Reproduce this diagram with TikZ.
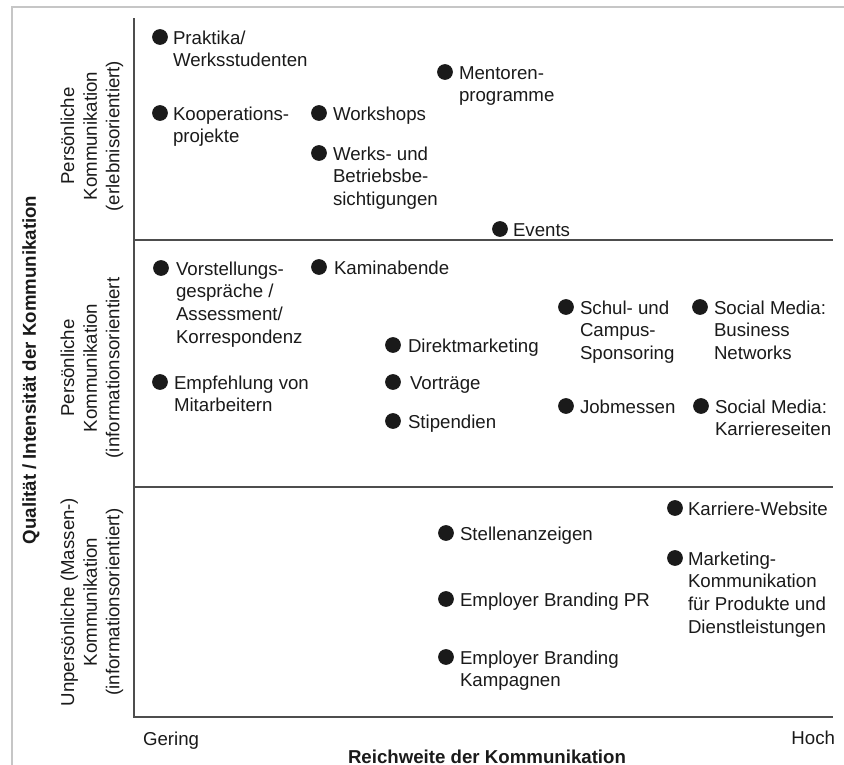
\documentclass[tikz,border=0pt]{standalone}
\usepackage{fontspec}
\setmainfont{Liberation Sans}
\definecolor{ink}{HTML}{1A1A1A}
\definecolor{axisgrey}{HTML}{4D4D4D}
\definecolor{framegrey}{HTML}{C6C6C6}
% multi-line label whose baseline is the first line
\newcommand\ml[1]{\begin{tabular}[t]{@{}l@{}}#1\end{tabular}}
% bullet item: name, bullet x, bullet y, text x, text
\newcommand\bitem[5]{%
  \node[dot] (#1) at (#2,#3) {};
  \node[lbl] (#1-t) at (#4,#3+7) {\ml{#5}};}
\begin{document}
\begin{tikzpicture}[x=0.75pt,y=-0.75pt,
  every node/.style={inner sep=0pt, outer sep=0pt, text=ink,
    font=\fontsize{14}{17}\selectfont},
  dot/.style={circle, fill=ink, minimum size=11.8pt},
  lbl/.style={anchor=base west},
  rowlbl/.style={rotate=90, align=center},
  titlelbl/.style={font=\fontsize{14}{17}\selectfont\bfseries},
  axis/.style={draw=axisgrey, line width=1.1pt},
  frame/.style={draw=framegrey, line width=1.5pt}]
\useasboundingbox (0,0) rectangle (844,765);

% outer frame (top and left edges)
\draw[frame] (12,765) -- (12,7) -- (844,7);

% axes and band dividers
\coordinate (top) at (134,18);
\coordinate (orig) at (134,717);
\coordinate (xend) at (833,717);
\coordinate (d1l) at (134,240);
\coordinate (d1r) at (833,240);
\coordinate (d2l) at (134,487);
\coordinate (d2r) at (833,487);
\draw[axis] (top) -- (orig) -- (xend);
\draw[axis] (d1l) -- (d1r);
\draw[axis] (d2l) -- (d2r);

% axis titles
\node[titlelbl, rotate=90] (ytitle) at (31,370) {Qualität / Intensität der Kommunikation};
\node[titlelbl, anchor=base] (xtitle) at (487,763) {Reichweite der Kommunikation};
\node[anchor=base west] (lo) at (143,745) {Gering};
\node[anchor=base east] (hi) at (835,744) {Hoch};

% band labels
\node[rowlbl] (band1) at (92,136) {Persönliche\\Kommunikation\\(erlebnisorientiert)};
\node[rowlbl] (band2) at (92,368) {Persönliche\\Kommunikation\\(informationsorientiert};
\node[rowlbl] (band3) at (92,602) {Unpersönliche (Massen-)\\Kommunikation\\(informationsorientiert)};

% experience-oriented personal communication
\bitem{prak}{160}{37}{173}{Praktika/\\Werksstudenten}
\bitem{koop}{160}{113}{173}{Kooperations-\\projekte}
\bitem{work}{319}{113}{333}{Workshops}
\bitem{werk}{319}{153}{333}{Werks- und\\Betriebsbe-\\sichtigungen}
\bitem{ment}{445}{72}{459}{Mentoren-\\programme}
\bitem{evts}{500}{229}{513}{Events}

% information-oriented personal communication
\bitem{vors}{161}{268}{176}{Vorstellungs-\\gespräche /\\Assessment/\\Korrespondenz}
\bitem{kami}{319}{267}{334}{Kaminabende}
\bitem{empf}{160}{382}{174}{Empfehlung von\\Mitarbeitern}
\bitem{dirm}{393}{345}{408}{Direktmarketing}
\bitem{vort}{393}{382}{410}{Vorträge}
\bitem{stip}{393}{421}{408}{Stipendien}
\bitem{schu}{566}{307}{580}{Schul- und\\Campus-\\Sponsoring}
\bitem{smbn}{700}{307}{714}{Social Media:\\Business\\Networks}
\bitem{jobm}{566}{406}{580}{Jobmessen}
\bitem{smks}{701}{406}{715}{Social Media:\\Karriereseiten}

% impersonal mass communication
\bitem{kwsb}{675}{508}{688}{Karriere-Website}
\bitem{mkom}{675}{558}{688}{Marketing-\\Kommunikation\\für Produkte und\\Dienstleistungen}
\bitem{stel}{446}{533}{460}{Stellenanzeigen}
\bitem{ebpr}{446}{599}{460}{Employer Branding PR}
\bitem{ebka}{446}{657}{460}{Employer Branding\\Kampagnen}
\end{tikzpicture}
\end{document}
